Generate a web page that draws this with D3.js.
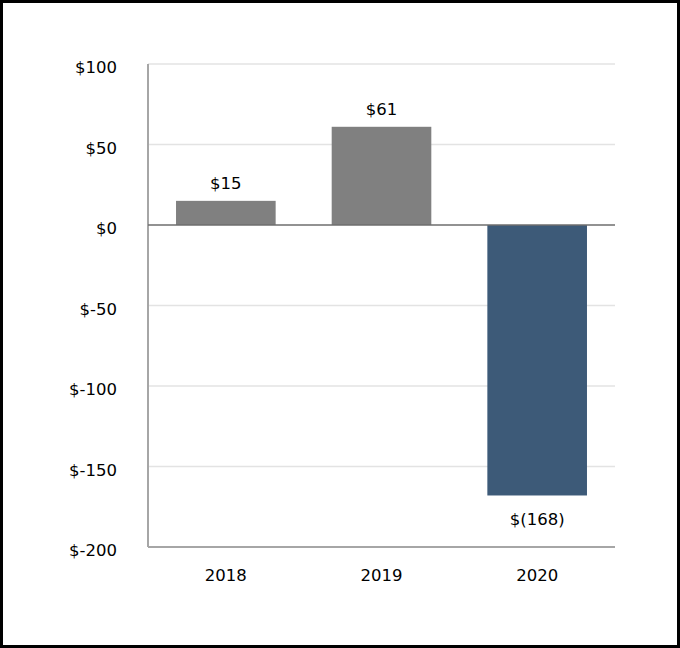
<!DOCTYPE html>
<html><head><meta charset="utf-8">
<script src="https://cdn.jsdelivr.net/npm/d3@7"></script>
<style>
html,body{margin:0;padding:0;background:#fff;}
svg{display:block;font-family:"DejaVu Sans",sans-serif;}
</style></head>
<body><svg id="c" width="680" height="648"></svg>
<script>
const categories = ["2018","2019","2020"];
const values = [15, 61, -168];
const valueLabels = ["$15","$61","$(168)"];
const barColors = ["#808080","#808080","#3d5a78"];
const yTicks = [100, 50, 0, -50, -100, -150, -200];
const yTickLabels = ["$100","$50","$0","$-50","$-100","$-150","$-200"];

(function(){
const FONT = "'DejaVu Sans',sans-serif";
const svg = d3.select("#c");
svg.append("rect").attr("x",1.5).attr("y",1.5).attr("width",677).attr("height",645)
  .attr("fill","#fff").attr("stroke","#000").attr("stroke-width",3);

const pL=148, pR=615, pT=64, pB=547;
const x = d3.scaleBand().domain(categories).range([pL,pR]).paddingInner(0.36).paddingOuter(0.18);
const y = d3.scaleLinear().domain([-200,100]).range([pB,pT]);

// gridlines
svg.append("g").selectAll("line").data(yTicks.filter(t=>t!==0 && t!==-200)).join("line")
  .attr("x1",pL).attr("x2",pR).attr("y1",d=>y(d)).attr("y2",d=>y(d))
  .attr("stroke","#e3e3e3").attr("stroke-width",1.5);

// y axis
const yAxis = d3.axisLeft(y).tickValues(yTicks).tickSize(0).tickPadding(31)
  .tickFormat(d=>yTickLabels[yTicks.indexOf(d)]);
const gy = svg.append("g").attr("transform",`translate(${pL},0)`).call(yAxis);
gy.select(".domain").remove();
gy.selectAll("text").attr("font-size",16.5).attr("fill","#000").attr("font-family",FONT).attr("dy","0.52em");
svg.append("line").attr("x1",pL).attr("x2",pL).attr("y1",pT).attr("y2",pB)
  .attr("stroke","#a6a6a6").attr("stroke-width",2);

// bars
svg.append("g").selectAll("rect").data(values).join("rect")
  .attr("x",(d,i)=>x(categories[i])).attr("width",x.bandwidth())
  .attr("y",d=>y(Math.max(0,d))).attr("height",d=>Math.abs(y(d)-y(0)))
  .attr("fill",(d,i)=>barColors[i]);

// zero line
svg.append("line").attr("x1",pL).attr("x2",pR).attr("y1",y(0)).attr("y2",y(0))
  .attr("stroke","#6e6e6e").attr("stroke-width",1.5);
// bottom axis
svg.append("line").attr("x1",pL).attr("x2",pR).attr("y1",pB).attr("y2",pB)
  .attr("stroke","#a6a6a6").attr("stroke-width",2);

// value labels
svg.append("g").selectAll("text").data(values).join("text")
  .attr("x",(d,i)=>x(categories[i])+x.bandwidth()/2)
  .attr("y",d=> d>=0 ? y(d)-12 : y(d)+30)
  .attr("text-anchor","middle").attr("font-size",16.5).attr("fill","#000").attr("font-family",FONT)
  .text((d,i)=>valueLabels[i]);

// x labels
const xAxis = d3.axisBottom(x).tickSize(0).tickPadding(22);
const gx = svg.append("g").attr("transform",`translate(0,${pB})`).call(xAxis);
gx.select(".domain").remove();
gx.selectAll("text").attr("font-size",16.5).attr("fill","#000").attr("font-family",FONT);
})();
</script></body></html>
